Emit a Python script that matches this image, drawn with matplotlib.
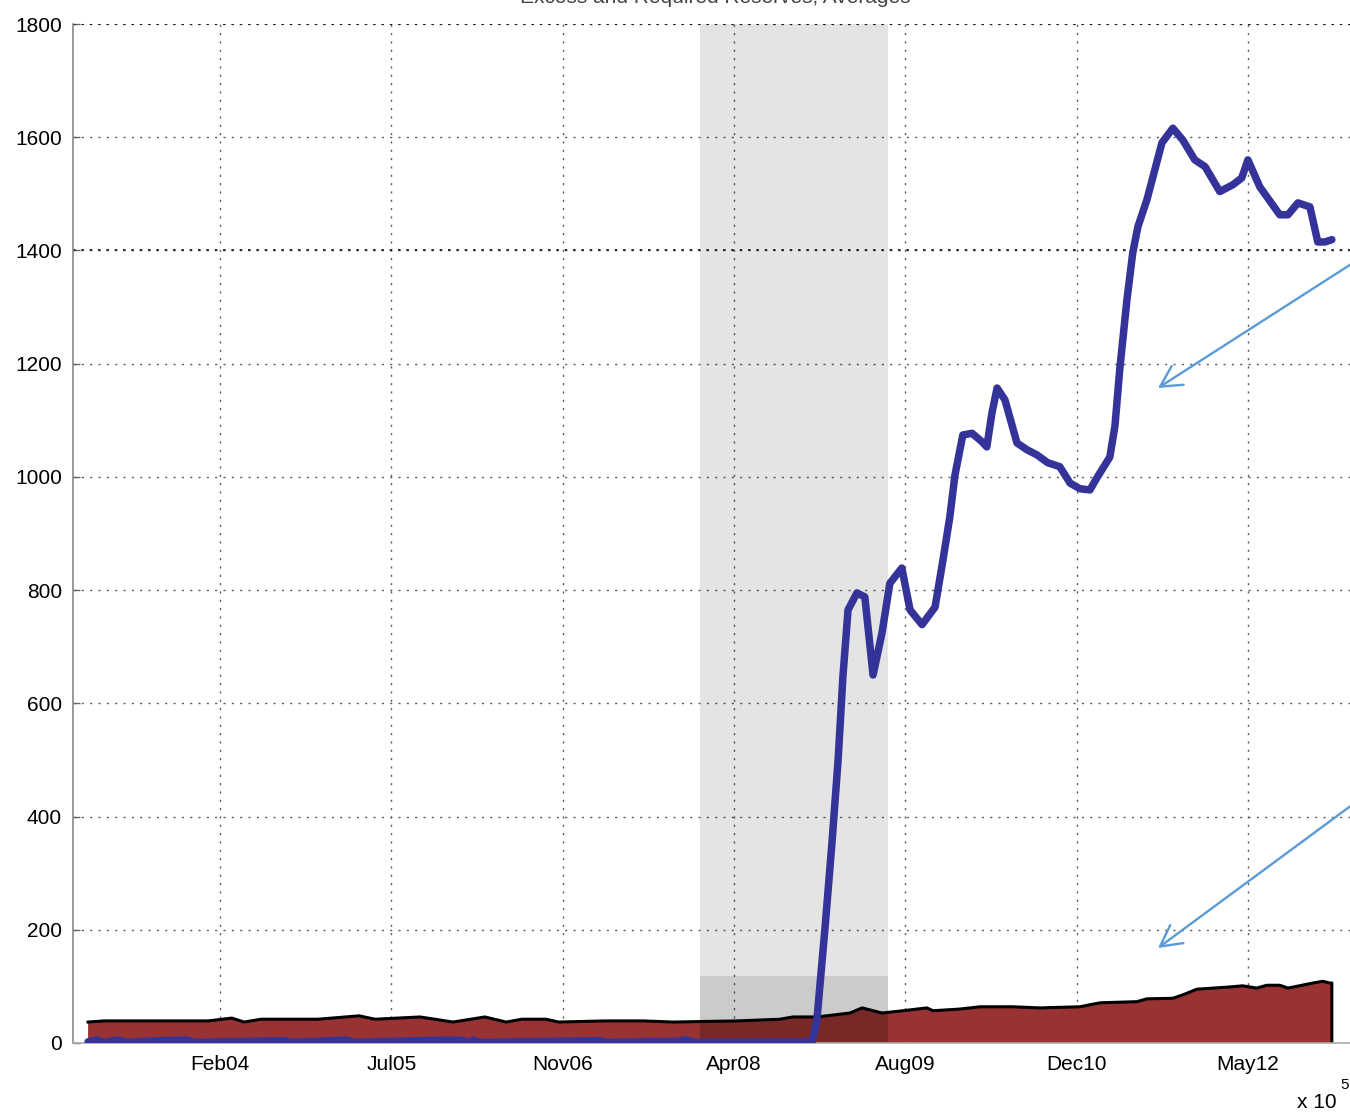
import matplotlib
matplotlib.use("Agg")
import matplotlib.pyplot as plt
import numpy as np

plt.rcParams['font.family'] = ['Liberation Sans', 'DejaVu Sans']

# x values are MATLAB-style serial date numbers
excess_dates = [731615, 731641, 731664, 731702, 731732, 731822, 731904, 731927,
                732190, 732210, 732368, 732394, 732642, 732703, 732724, 732738,
                732759, 733109, 733132, 733342, 733357, 733386, 733728, 733742,
                733766, 733786, 733804, 733818, 733833, 733859, 733882, 733906,
                733932, 733955, 733990, 734014, 734049, 734087, 734110, 734130,
                734145, 734168, 734195, 734224, 734238, 734253, 734268, 734291,
                734326, 734355, 734384, 734416, 734451, 734481, 734510, 734539,
                734559, 734597, 734612, 734626, 734647, 734664, 734679, 734705,
                734723, 734749, 734781, 734810, 734845, 734875, 734918, 734956,
                734982, 735000, 735035, 735093, 735117, 735146, 735181, 735204,
                735225, 735245]
excess_values = [2, 5, 1, 5, 1, 4, 5, 1,
                 4, 1, 5, 1, 5, 5, 1, 5,
                 1, 4, 1, 3, 6, 1, 2, 40,
                 205, 353, 500, 647, 765, 795, 788, 650,
                 724, 812, 839, 765, 739, 770, 853, 929,
                 1003, 1074, 1077, 1062, 1053, 1113, 1157, 1136,
                 1060, 1048, 1039, 1025, 1018, 989, 979, 977,
                 998, 1035, 1090, 1190, 1313, 1396, 1442, 1489,
                 1530, 1590, 1616, 1595, 1560, 1548, 1504, 1516,
                 1528, 1560, 1512, 1463, 1463, 1484, 1477, 1415,
                 1415, 1419]

required_dates = [731615, 731661, 731810, 731965, 732035, 732070, 732120, 732286,
                  732406, 732452, 732584, 732680, 732773, 732835, 732881, 732951,
                  732989, 733121, 733237, 733322, 733407, 733509, 733634, 733672,
                  733742, 733839, 733874, 733932, 733993, 734063, 734081, 734160,
                  734218, 734314, 734393, 734510, 734568, 734676, 734705, 734781,
                  734810, 734851, 734947, 734985, 735026, 735055, 735093, 735117,
                  735190, 735219, 735239, 735245]
required_values = [37, 39, 39, 39, 44, 37, 42, 42,
                   48, 42, 46, 37, 46, 37, 42, 42,
                   37, 39, 39, 37, 38, 39, 42, 46,
                   46, 53, 62, 53, 57, 62, 57, 60,
                   64, 64, 62, 64, 71, 73, 78, 79,
                   85, 95, 99, 101, 97, 102, 102, 97,
                   106, 109, 106, 106]

recession = (733400, 733950)
recession_low_band = 118

tick_dates = [732000, 732500, 733000, 733500, 734000, 734500, 735000]
tick_labels = ['Feb04', 'Jul05', 'Nov06', 'Apr08', 'Aug09', 'Dec10', 'May12']
y_ticks = list(range(0, 1801, 200))

W, H = 1350, 1113
fig = plt.figure(figsize=(W / 100, H / 100), dpi=100)
ax = fig.add_axes([73 / W, (H - 1043) / H, (W - 73) / W, (1043 - 24) / H])

# required reserves as a filled area with a black outline on top
area_x = [required_dates[0]] + required_dates + [required_dates[-1]]
area_y = [0] + required_values + [0]
ax.fill(area_x, area_y, color='#993333', lw=0, zorder=2)
ax.plot(required_dates + [required_dates[-1]], required_values + [0],
        color='black', lw=2.2, solid_joinstyle='round', zorder=2.1)

# recession shading (two translucent layers)
ax.axvspan(recession[0], recession[1], ymin=0, ymax=1, color='black',
           alpha=0.105, lw=0, zorder=2.5)
ax.fill_between(recession, 0, recession_low_band, color='black',
                alpha=0.105, lw=0, zorder=2.5)

# excess reserves
ax.plot(excess_dates, excess_values, color='#333399', lw=5.4,
        solid_joinstyle='round', solid_capstyle='round', zorder=3)

ax.set_xlim(731571, 735298)
ax.set_ylim(0, 1800)
ax.set_xticks(tick_dates)
ax.set_xticklabels(tick_labels)
ax.set_yticks(y_ticks)
ax.set_yticklabels([str(v) for v in y_ticks])

ax.set_axisbelow(True)
ax.grid(True, color='#5a5a5a', linestyle=(0, (1.5, 4.5)), lw=1.0)
for yv in (1400, 1800):
    ax.axhline(yv, color='#111111', linestyle=(0, (1.5, 3.5)), lw=1.2, zorder=1)

for s in ('top', 'right'):
    ax.spines[s].set_visible(False)
ax.spines['left'].set_color('#888888')
ax.spines['bottom'].set_color('#aaaaaa')
ax.spines['left'].set_linewidth(1.2)
ax.spines['bottom'].set_linewidth(1.2)

ax.tick_params(axis='both', direction='in', length=5, width=1,
               color='#666666', labelsize=15, labelcolor='black')
ax.tick_params(axis='y', pad=8)
ax.tick_params(axis='x', pad=9)

# scale factor of the serial date axis
fig.text(1337 / W, 5 / H, 'x 10', fontsize=15, ha='right', va='baseline')
fig.text(1340 / W, 24 / H, '5', fontsize=11, ha='left', va='baseline')

# title (partly above the top edge)
fig.text(715 / W, (H - 3) / H, 'Excess and Required Reserves, Averages',
         fontsize=15, ha='center', va='baseline', color='#444444')

# call-out arrows
arrow_kw = dict(arrowstyle='->,head_length=1.5,head_width=0.8',
                color='#5b9bd5', lw=1.7, shrinkA=0, shrinkB=0)
ax.annotate('', xy=(1158, H - 388), xycoords='figure pixels',
            xytext=(1356, H - 261), textcoords='figure pixels',
            arrowprops=arrow_kw, annotation_clip=False)
ax.annotate('', xy=(1158, H - 948), xycoords='figure pixels',
            xytext=(1356, H - 802), textcoords='figure pixels',
            arrowprops=arrow_kw, annotation_clip=False)

fig.savefig('out.png', dpi=100)
